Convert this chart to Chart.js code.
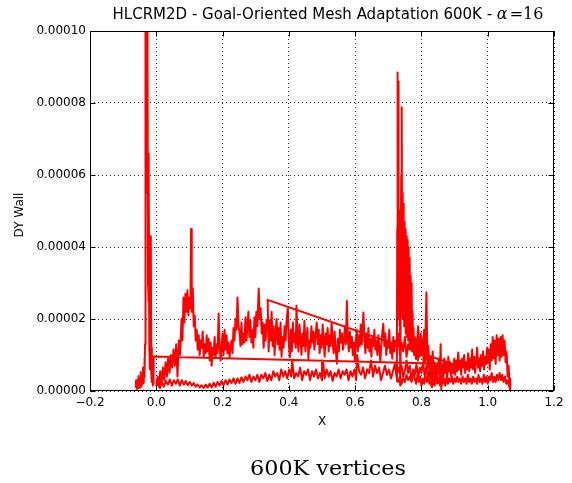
<!DOCTYPE html>
<html>
<head>
<meta charset="utf-8">
<script src="https://cdn.jsdelivr.net/npm/chart.js@4/dist/chart.umd.min.js"></script>
<style>
  html, body { margin: 0; padding: 0; background: #fff; }
  canvas { display: block; }
</style>
</head>
<body>
<canvas id="chart" width="572" height="483"></canvas>
<script>
// DY wall along the slat, main element and flap; y values are in units of 1e-6
const xTickValues = [-0.2, 0.0, 0.2, 0.4, 0.6, 0.8, 1.0, 1.2];
const xTickLabels = ['\u22120.2', '0.0', '0.2', '0.4', '0.6', '0.8', '1.0', '1.2'];
const yTickValues = [0, 20, 40, 60, 80, 100];
const yTickLabels = ['0.00000', '0.00002', '0.00004', '0.00006', '0.00008', '0.00010'];

const slat = [
  [-0.062,1.0],[-0.061,3.0],[-0.059,0.5],[-0.057,2.8],[-0.055,1.0],[-0.054,4.2],[-0.052,0.8],[-0.050,3.5],
  [-0.049,1.5],[-0.047,5.2],[-0.045,1.2],[-0.043,4.0],[-0.041,2.0],[-0.040,6.5],[-0.038,2.2],[-0.037,5.0],
  [-0.036,9.0],[-0.035,4.0],[-0.034,13.0],[-0.033,35],[-0.032,125],[-0.031,70],[-0.030,140],[-0.029,55],
  [-0.028,120],[-0.027,65],[-0.026,100],[-0.025,30],[-0.024,66],[-0.023,25],[-0.022,64],[-0.021,12],
  [-0.020,20],[-0.019,6],[-0.018,43],[-0.017,15],[-0.016,42],[-0.015,5],[-0.014,12],[-0.013,2.5],
  [-0.012,6],[-0.011,1.5],[-0.010,4.5],[-0.009,2.0],[-0.008,9.6]
];

// lone node the slat end is joined to
const jump = [[0.894, 7.5]];

const mainUpper = [
  [0.000,1.5],[0.004,4.0],[0.008,1.2],[0.012,5.5],[0.016,2.0],[0.020,6.5],[0.024,3.0],[0.028,8.0],
  [0.032,4.0],[0.036,9.5],[0.040,5.0],[0.044,10.0],[0.048,6.5],[0.052,11.5],[0.056,7.0],[0.060,13.0],
  [0.064,4.0],[0.068,14.0],[0.072,10.0],[0.076,20.0],[0.079,14.0],[0.082,26.0],[0.085,19.0],[0.088,27.0],
  [0.091,22.0],[0.094,28.0],[0.097,21.0],[0.100,26.0],[0.103,23.0],[0.105,45.0],[0.107,22.0],[0.110,28.5],
  [0.113,18.0],[0.116,21.0],[0.119,14.0],[0.122,17.0],[0.125,11.5],[0.128,15.5],[0.131,10.0],[0.134,14.0],
  [0.137,12.0],[0.140,16.5],[0.143,9.5],[0.146,13.0],[0.149,10.5],[0.152,15.5],[0.155,11.0],[0.158,14.5],
  [0.161,8.5],[0.164,13.5],[0.167,7.0],[0.170,12.0],[0.173,10.0],[0.176,15.0],[0.179,9.5],[0.182,13.0],
  [0.185,10.5],[0.188,21.5],[0.191,13.0],[0.194,8.5],[0.197,12.0],[0.200,16.0],[0.203,10.0],[0.206,17.0],
  [0.209,11.5],[0.212,15.5],[0.215,10.5],[0.218,13.5],[0.221,9.5],[0.224,12.0],[0.227,14.0],[0.230,10.5],
  [0.233,17.5],[0.236,14.0],[0.239,20.0],[0.242,17.0],[0.245,26.0],[0.248,18.0],[0.251,16.5],[0.254,12.5],
  [0.257,19.0],[0.260,13.0],[0.263,16.0],[0.266,13.5],[0.269,20.5],[0.272,14.0],[0.275,18.0],[0.278,22.0],
  [0.281,15.0],[0.284,19.5],[0.287,13.5],[0.290,17.0],[0.293,12.0],[0.296,20.5],[0.299,15.0],[0.302,22.0],
  [0.305,18.0],[0.309,28.5],[0.312,20.0],[0.315,23.0],[0.318,16.0],[0.321,19.0],[0.324,12.0],[0.327,18.5],
  [0.330,14.0],[0.333,20.0],
  [0.336,25.3],[0.339,11.0],[0.342,19.5],[0.345,14.0],[0.348,22.0],[0.351,12.5],[0.354,18.0],[0.357,10.0],
  [0.360,16.5],[0.363,20.0],[0.366,13.0],[0.369,17.5],[0.372,11.5],[0.375,19.0],[0.378,9.5],[0.381,15.0],
  [0.384,12.0],[0.387,18.0],[0.390,14.0],[0.394,20.5],[0.397,23.0],[0.400,13.0],[0.403,9.4],[0.406,17.0],
  [0.409,11.0],[0.412,19.0],[0.415,13.5],[0.418,16.0],[0.421,12.0],[0.423,23.7],[0.426,15.0],[0.429,11.0],
  [0.432,18.5],[0.435,14.5],[0.438,10.0],[0.441,16.0],[0.444,12.5],[0.447,19.5],[0.450,11.0],[0.453,15.0],
  [0.456,17.5],[0.459,9.0],[0.462,14.0],[0.465,12.0],[0.468,18.0],[0.471,13.5],[0.474,16.5],[0.477,11.5],
  [0.480,15.0],[0.484,19.0],[0.487,13.0],[0.490,17.0],[0.493,10.5],[0.496,15.5],[0.499,12.0],[0.502,18.5],
  [0.505,14.0],[0.508,9.5],[0.511,16.0],[0.514,13.0],[0.517,17.5],[0.520,11.0],[0.523,15.5],[0.526,12.5],
  [0.529,19.0],[0.532,14.0],[0.535,10.5],[0.538,16.5],[0.541,12.0],[0.545,7.6],[0.548,14.5],[0.551,11.0],
  [0.554,17.0],[0.557,13.5],[0.560,16.0],[0.563,11.5],[0.566,14.0],[0.569,18.0],[0.572,13.0],[0.575,25.0],
  [0.578,14.5],[0.581,11.0],[0.584,16.5],[0.587,12.0],[0.590,15.0],[0.593,10.0],[0.596,13.5],[0.599,8.5],
  [0.602,14.0],[0.605,17.0],[0.608,11.0],[0.611,15.5],[0.614,12.5],[0.617,18.5],[0.620,13.0],[0.625,21.8],
  [0.628,14.0],[0.631,10.5],[0.634,16.0],[0.637,12.0],[0.640,17.5],[0.643,11.0],[0.646,14.5],[0.649,9.5],
  [0.652,15.0],[0.655,12.5],[0.658,17.0],[0.661,11.5],[0.664,14.0],[0.667,10.0],[0.670,15.5],[0.673,12.0],
  [0.676,8.0],[0.680,14.5],[0.685,18.7],[0.688,12.5],[0.691,16.0],[0.694,10.0],[0.697,14.0],[0.700,12.0],
  [0.703,17.0],[0.706,10.5],[0.709,13.5],[0.712,9.0],[0.715,15.0],[0.718,11.0],[0.721,14.0],[0.725,12.5],
  [0.730,16.0],[0.735,10.0],[0.740,13.5],[0.745,11.0],[0.750,15.0],[0.755,9.5],[0.760,13.0],[0.765,11.5],
  [0.770,16.5],[0.775,12.0],[0.780,14.0],[0.785,9.0],[0.790,18.0],[0.795,11.5],[0.800,15.0],[0.805,10.0],
  [0.808,17.0],[0.811,8.0],[0.815,27.4],[0.818,9.0],[0.821,12.5],[0.824,6.0],[0.828,8.5],[0.832,4.0]
];

const mainLower = [
  [0.850,3.0],[0.845,6.5],[0.840,2.0],[0.835,5.5],[0.830,1.5],[0.825,6.0],[0.820,3.5],[0.815,7.0],
  [0.810,4.0],[0.805,8.0],[0.800,5.0],[0.795,6.5],[0.790,3.5],[0.785,7.5],[0.780,4.5],[0.775,6.0],
  [0.770,3.0],[0.765,7.0],[0.760,5.0],[0.755,8.5],[0.750,5.5],[0.745,4.0],[0.740,7.0],[0.735,5.0],
  [0.730,6.5],[0.725,4.0],[0.720,7.5],[0.714,5.5],[0.708,3.5],[0.702,6.0],[0.696,4.5],[0.690,7.0],
  [0.684,5.0],[0.678,3.0],[0.672,6.5],[0.666,5.0],[0.660,7.0],[0.654,4.0],[0.648,8.5],[0.642,5.0],
  [0.636,6.0],[0.630,3.5],[0.624,6.5],[0.618,4.5],[0.612,5.5],[0.606,10.0],[0.603,3.0],[0.598,6.0],
  [0.592,4.0],[0.586,5.5],[0.580,3.0],[0.574,6.0],[0.568,4.5],[0.562,5.5],[0.556,3.5],[0.550,6.0],
  [0.544,4.0],[0.538,5.0],[0.532,2.8],[0.526,5.5],[0.520,4.0],[0.514,6.0],[0.508,3.5],[0.503,8.5],
  [0.500,3.0],[0.494,5.0],[0.488,3.5],[0.482,6.0],[0.476,4.0],[0.470,5.5],[0.464,3.0],[0.458,6.0],
  [0.452,4.5],[0.446,5.5],[0.440,3.0],[0.434,6.5],[0.428,4.0],[0.422,5.0],[0.416,3.5],[0.410,8.5],
  [0.407,4.0],[0.401,6.0],[0.395,3.5],[0.389,5.5],[0.383,4.0],[0.377,6.0],[0.371,3.0],[0.365,5.0],
  [0.359,4.0],[0.353,5.5],[0.347,3.0],[0.341,4.5],[0.335,2.8],[0.329,5.0],[0.323,3.5],[0.317,4.5],
  [0.311,2.5],[0.305,4.5],[0.299,3.0],[0.293,4.0],[0.287,2.5],[0.281,4.5],[0.275,3.0],[0.269,4.0],
  [0.263,2.5],[0.257,3.8],[0.251,2.2],[0.245,3.5],[0.239,2.0],[0.233,3.5],[0.227,2.2],[0.221,3.2],
  [0.215,1.8],[0.209,3.0],[0.203,1.6],[0.197,2.8],[0.191,1.5],[0.185,2.5],[0.179,1.2],[0.173,2.3],
  [0.167,1.0],[0.161,2.0],[0.155,1.0],[0.149,1.8],[0.143,0.8],[0.137,1.6],[0.131,1.0],[0.125,1.8],
  [0.119,1.2],[0.113,2.2],[0.107,1.5],[0.101,2.5],[0.095,1.6],[0.089,2.8],[0.083,1.8],[0.077,3.0],
  [0.071,1.5],[0.065,3.2],[0.059,2.0],[0.053,3.0],[0.047,1.5],[0.041,3.2],[0.035,1.8],[0.029,2.8],
  [0.023,1.2],[0.017,2.5],[0.011,0.8],[0.005,2.0],[0.000,1.5]
];

const flapUpper = [
  [0.724,3.0],[0.726,12],[0.727,45],[0.7275,20],[0.728,88.5],[0.729,30],[0.7295,86],[0.730,40],
  [0.731,70],[0.732,25],[0.733,50],[0.734,18],[0.735,40],[0.736,1.5],[0.737,30],[0.739,60],
  [0.740,28],[0.741,78.8],[0.742,30],[0.743,55],[0.744,20],[0.745,52],[0.746,25],[0.747,48],
  [0.748,18],[0.749,47],[0.750,22],[0.751,45],[0.752,16],[0.753,44],[0.754,24],[0.755,43],
  [0.756,15],[0.757,42],[0.758,22],[0.759,41],[0.760,14],[0.761,40],[0.762,20],[0.763,37],
  [0.764,12],[0.765,35],[0.766,18],[0.767,32],[0.768,13],[0.769,30],[0.770,16],[0.771,28],
  [0.772,11],[0.773,22],[0.775,12],[0.776,17.6],[0.778,10],[0.780,15],[0.783,9],[0.786,14.5],
  [0.789,8.5],[0.792,13],[0.795,9.5],[0.798,16],[0.801,10],[0.804,12.5],[0.807,7.5],[0.810,13],
  [0.813,9],[0.816,11.5],[0.819,6.5],[0.822,10],[0.825,5],[0.828,9.5],[0.831,6],[0.834,11],
  [0.837,4.5],[0.840,8],[0.843,3],[0.846,7.5],[0.849,5],[0.852,9],[0.855,3.5],[0.858,13],
  [0.860,0.5],[0.863,7],[0.866,4],[0.869,9],[0.872,5],[0.875,8],[0.878,3.5],[0.881,9.5],
  [0.884,5.5],[0.887,8],[0.890,4],[0.893,7.5],[0.896,5],[0.899,9],[0.902,4.5],[0.905,8.5],
  [0.908,5.5],[0.911,10.7],[0.914,6],[0.917,8.5],[0.920,4.5],[0.923,9],[0.926,6.5],[0.929,10],
  [0.932,5],[0.935,8],[0.938,6],[0.941,10.5],[0.944,5.5],[0.947,9],[0.950,6.5],[0.953,11.5],
  [0.956,6],[0.959,9.5],[0.962,5],[0.965,8.5],[0.968,12],[0.971,6.5],[0.974,9],[0.977,5.5],
  [0.980,10],[0.983,7],[0.986,11],[0.989,6],[0.992,9.5],[0.995,7.5],[0.998,12],[1.001,8],
  [1.003,11.5],[1.006,6],[1.009,13],[1.012,8.5],[1.015,15],[1.018,9],[1.021,14],[1.024,7.5],
  [1.027,15.5],[1.030,10],[1.033,14.5],[1.036,8.5],[1.039,15],[1.042,9.5],[1.045,15.5],[1.048,10],
  [1.051,14],[1.054,8],[1.057,11],[1.060,4],[1.063,7],[1.066,1],[1.068,0]
];

const flapLower = [
  [1.068,3.5],[1.064,1.5],[1.060,3.0],[1.056,2.0],[1.052,4.0],[1.048,2.5],[1.044,4.5],[1.040,3.0],
  [1.036,5.0],[1.032,3.0],[1.028,4.5],[1.024,2.5],[1.020,4.0],[1.016,2.5],[1.012,5.0],[1.008,3.0],
  [1.004,4.0],[1.000,2.0],[0.996,4.0],[0.992,2.5],[0.988,4.5],[0.984,2.0],[0.980,3.5],[0.976,2.5],
  [0.972,4.5],[0.968,2.0],[0.964,3.5],[0.960,2.5],[0.956,4.0],[0.952,2.0],[0.948,3.5],[0.944,2.5],
  [0.940,4.5],[0.936,2.0],[0.932,3.5],[0.928,2.5],[0.924,4.0],[0.920,2.0],[0.916,3.5],[0.912,2.5],
  [0.908,4.0],[0.904,2.5],[0.900,3.5],[0.896,2.0],[0.892,4.0],[0.888,2.5],[0.884,3.5],[0.880,2.0],
  [0.876,4.0],[0.872,1.5],[0.868,3.5],[0.864,2.0],[0.860,3.0],[0.856,1.5],[0.852,3.5],[0.848,2.0],
  [0.844,4.0],[0.840,1.5],[0.836,3.0],[0.832,1.0],[0.828,3.5],[0.824,2.0],[0.820,4.0],[0.816,2.5],
  [0.812,4.5],[0.808,2.0],[0.804,3.5],[0.800,1.5],[0.796,4.0],[0.792,2.5],[0.788,4.5],[0.784,2.0],
  [0.780,3.5],[0.775,5.0],[0.770,2.5],[0.765,4.0],[0.760,3.0],[0.755,4.5],[0.750,2.5],[0.745,3.5],
  [0.740,2.0],[0.735,4.0],[0.730,2.5],[0.724,3.0]
];

// node order of the surface file: slat, a stray node, then the main element starting mid-chord
const split = mainUpper.findIndex(p => p[0] >= 0.336);
const mainPath = [].concat(slat, jump, mainUpper.slice(split), mainLower, mainUpper.slice(0, split));
const flapPath = flapUpper.concat(flapLower);
const toPts = arr => arr.map(([x, y]) => ({x, y}));

const lineStyle = {
    showLine: true,
    borderColor: '#ff0000',
    borderWidth: 2,
    borderJoinStyle: 'round',
    pointRadius: 0,
    tension: 0
};

const decor = {
    id: 'decor',
    afterDraw(chart) {
        const {ctx, chartArea: a, scales: {x, y}} = chart;
        const L = Math.round(a.left) + 0.5, R = Math.round(a.right) - 0.5;
        const T = Math.round(a.top) + 0.5, B = Math.round(a.bottom) - 0.5;
        ctx.save();
        ctx.strokeStyle = '#000';
        ctx.lineWidth = 1;
        ctx.strokeRect(L, T, R - L, B - T);
        ctx.beginPath();
        xTickValues.forEach(v => {
            const px = Math.round(x.getPixelForValue(v)) + 0.5;
            ctx.moveTo(px, B); ctx.lineTo(px, B - 5);
            ctx.moveTo(px, T); ctx.lineTo(px, T + 5);
        });
        yTickValues.forEach(v => {
            const py = Math.round(y.getPixelForValue(v)) + 0.5;
            ctx.moveTo(L, py); ctx.lineTo(L + 5, py);
            ctx.moveTo(R, py); ctx.lineTo(R - 5, py);
        });
        ctx.stroke();

        ctx.fillStyle = '#000';
        // title with the math part in serif
        const t1 = 'HLCRM2D - Goal-Oriented Mesh Adaptation 600K - ';
        const fT = '15px "DejaVu Sans"', fA = 'italic 16px "DejaVu Serif"', fE = '16px "DejaVu Serif"';
        ctx.font = fT; const w1 = ctx.measureText(t1).width;
        ctx.font = fA; const wA = ctx.measureText('\u03b1').width;
        ctx.font = fE; const wE = ctx.measureText('=16').width;
        let tx = 328 - (w1 + wA + 2 + wE) / 2;
        ctx.textBaseline = 'alphabetic';
        ctx.textAlign = 'left';
        ctx.font = fT; ctx.fillText(t1, tx, 19); tx += w1;
        ctx.font = fA; ctx.fillText('\u03b1', tx, 19); tx += wA + 2;
        ctx.font = fE; ctx.fillText('=16', tx, 19);

        // axis titles
        ctx.font = '12px "DejaVu Sans"';
        ctx.textAlign = 'center';
        ctx.textBaseline = 'middle';
        ctx.fillText('X', 322, 422);
        ctx.save();
        ctx.translate(20, 215);
        ctx.rotate(-Math.PI / 2);
        ctx.fillText('DY Wall', 0, 0);
        ctx.restore();

        // caption under the plot
        ctx.font = '20px "DejaVu Serif"';
        const wc = ctx.measureText('600K vertices').width;
        ctx.save();
        ctx.translate(328, 475);
        ctx.scale(156 / wc, 1);
        ctx.textBaseline = 'alphabetic';
        ctx.fillText('600K vertices', 0, 0);
        ctx.restore();
        ctx.restore();
    }
};

const tickFont = {family: 'DejaVu Sans', size: 12};

new Chart(document.getElementById('chart'), {
    type: 'scatter',
    data: {
        datasets: [
            {data: toPts(mainPath), ...lineStyle},
            {data: toPts(flapPath), ...lineStyle}
        ]
    },
    options: {
        responsive: false,
        animation: false,
        devicePixelRatio: 1,
        layout: {padding: {top: 31, right: 18, bottom: 0, left: 0}},
        plugins: {
            legend: {display: false},
            tooltip: {enabled: false},
            title: {display: false}
        },
        scales: {
            x: {
                type: 'linear',
                min: -0.2,
                max: 1.2,
                afterBuildTicks: s => { s.ticks = xTickValues.map(v => ({value: v})); },
                afterFit: s => { s.height = 92; },
                grid: {color: 'rgba(0,0,0,0.85)', lineWidth: 1, drawTicks: false},
                border: {display: false, dash: [1, 3]},
                ticks: {
                    padding: 5,
                    color: '#000',
                    font: tickFont,
                    autoSkip: false,
                    maxRotation: 0,
                    callback: (v, i) => xTickLabels[i]
                }
            },
            y: {
                type: 'linear',
                min: 0,
                max: 100,
                afterBuildTicks: s => { s.ticks = yTickValues.map(v => ({value: v})); },
                afterFit: s => { s.width = 90; },
                grid: {color: 'rgba(0,0,0,0.85)', lineWidth: 1, drawTicks: false},
                border: {display: false, dash: [1, 3]},
                ticks: {
                    padding: 4,
                    color: '#000',
                    font: tickFont,
                    autoSkip: false,
                    callback: (v, i) => yTickLabels[i]
                }
            }
        }
    },
    plugins: [decor]
});
</script>
</body>
</html>
